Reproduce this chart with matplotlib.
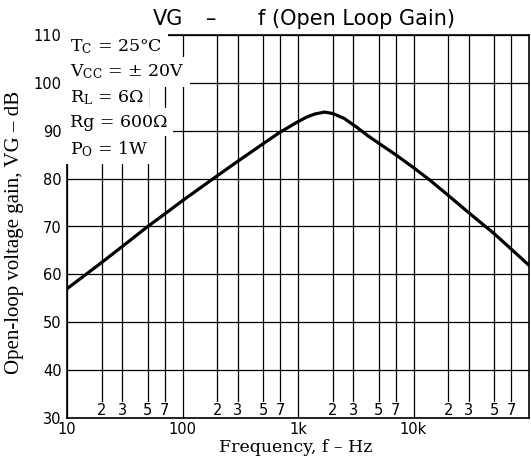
import matplotlib
matplotlib.use('Agg')
import matplotlib.pyplot as plt
import numpy as np

plt.rcParams['mathtext.fontset'] = 'dejavuserif'

# curve (Hz, dB)
freq = [10, 20, 30, 50, 70, 100, 200, 300, 500, 700, 1000, 1200, 1400,
        1700, 2000, 2500, 3200, 4000, 5000, 7000, 10000, 14000, 20000,
        30000, 50000, 70000, 100000]
gain = [57.0, 62.5, 65.8, 70.0, 72.6, 75.4, 80.6, 83.6, 87.3, 89.7, 91.9,
        92.9, 93.5, 93.9, 93.6, 92.6, 90.8, 89.0, 87.4, 85.0, 82.3, 79.6,
        76.5, 72.9, 68.5, 65.3, 61.9]

decades = [10, 100, 1000, 10000]
decade_labels = ['10', '100', '1k', '10k']
minor_ticks = [d * m for d in decades for m in (2, 3, 5, 7)]
minor_labels = [str(m) for d in decades for m in (2, 3, 5, 7)]
y_ticks = [30, 40, 50, 60, 70, 80, 90, 100, 110]

conditions = [r'T$_\mathrm{C}$ = 25°C',
              r'V$_\mathrm{CC}$ = ± 20V',
              r'R$_\mathrm{L}$ = 6Ω',
              r'Rg = 600Ω',
              r'P$_\mathrm{O}$ = 1W']

fig = plt.figure(figsize=(5.31, 4.65), dpi=100)
ax = fig.add_axes([67 / 531, 1 - 418 / 465, 462 / 531, 383 / 465])

ax.plot(freq, gain, color='black', lw=2.3, solid_joinstyle='round')

ax.set_xscale('log')
ax.set_xlim(10, 100000)
ax.set_ylim(30, 110)

ax.set_xticks(decades, decade_labels)
ax.set_xticks(minor_ticks, minor_labels, minor=True)
ax.set_yticks(y_ticks)

ax.grid(True, which='both', color='black', lw=0.9)
ax.tick_params(which='both', length=0)
ax.tick_params(axis='x', which='major', pad=3, labelsize=10.5)
ax.tick_params(axis='x', which='minor', pad=-11, labelsize=10.5)
ax.tick_params(axis='y', pad=4, labelsize=10.5)
for lbl in ax.get_xticklabels(minor=True):
    lbl.set_bbox(dict(facecolor='white', edgecolor='none', pad=0.5))

for sp in ax.spines.values():
    sp.set_linewidth(1.2)

# test conditions, each on a white patch
for i, line in enumerate(conditions):
    ax.text(0.006, 0.994 - i * 0.0665, line, transform=ax.transAxes,
            family='DejaVu Serif', fontsize=12.5, va='top', ha='left',
            bbox=dict(facecolor='white', edgecolor='none', pad=4), zorder=5)

ax.set_xlabel('Frequency, f – Hz', family='DejaVu Serif', fontsize=12.5)
ax.xaxis.set_label_coords(0.494, -0.055)
ax.set_ylabel('Open-loop voltage gain, VG – dB', family='Liberation Serif',
              fontsize=15)
ax.yaxis.set_label_coords(-0.093, 0.484)

# title pieces placed as in the reference
fig.text(153 / 531, 1 - 9 / 465, 'VG', ha='left', va='top', fontsize=15)
fig.text(211 / 531, 1 - 9 / 465, '–', ha='center', va='top', fontsize=15)
fig.text(258 / 531, 1 - 9 / 465, 'f (Open Loop Gain)', ha='left', va='top',
         fontsize=15)

fig.savefig('out.png', dpi=100)
